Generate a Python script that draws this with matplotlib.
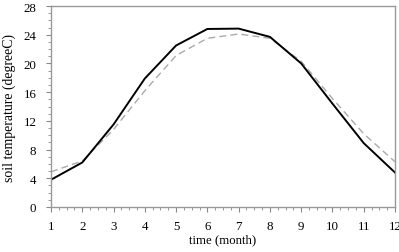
import matplotlib.pyplot as plt
from matplotlib.ticker import MultipleLocator

months = [1, 2, 3, 4, 5, 6, 7, 8, 9, 10, 11, 12]
soil_a = [3.8, 6.2, 11.5, 17.9, 22.5, 24.8, 24.85, 23.7, 20.0, 14.4, 8.9, 4.8]
soil_b = [4.9, 6.4, 10.8, 16.2, 21.1, 23.5, 24.1, 23.5, 20.3, 15.1, 10.2, 6.3]

plt.rcParams['font.family'] = ['Liberation Serif']
fig = plt.figure(figsize=(3.99, 2.53), dpi=100)
ax = fig.add_axes([51/399, 45/253, 344/399, 201/253])

ax.plot(months, soil_b, color='#aaaaaa', lw=1.0, ls=(0, (5, 3)))
ax.plot(months, soil_a, color='black', lw=1.4)

ax.set_xlim(1, 12)
ax.set_ylim(0, 28)
ax.set_xticks(months)
ax.set_yticks(range(0, 29, 4))
ax.xaxis.set_minor_locator(MultipleLocator(0.25))
ax.yaxis.set_minor_locator(MultipleLocator(1))
ax.tick_params(which='major', direction='out', length=3.6, width=0.8, color='#888888', labelsize=9.3)
ax.tick_params(axis='x', which='major', pad=6)
ax.tick_params(axis='y', which='major', pad=7)
ax.tick_params(which='minor', direction='out', length=2, width=0.6, color='#888888')
for s in ax.spines.values():
    s.set_color('#999999')
    s.set_linewidth(1.0)

ax.set_xlabel('time (month)', fontsize=9.2, labelpad=1)
ax.set_ylabel('soil temperature (degreeC)', fontsize=9.9, labelpad=5)

fig.savefig('out.png', dpi=100)
